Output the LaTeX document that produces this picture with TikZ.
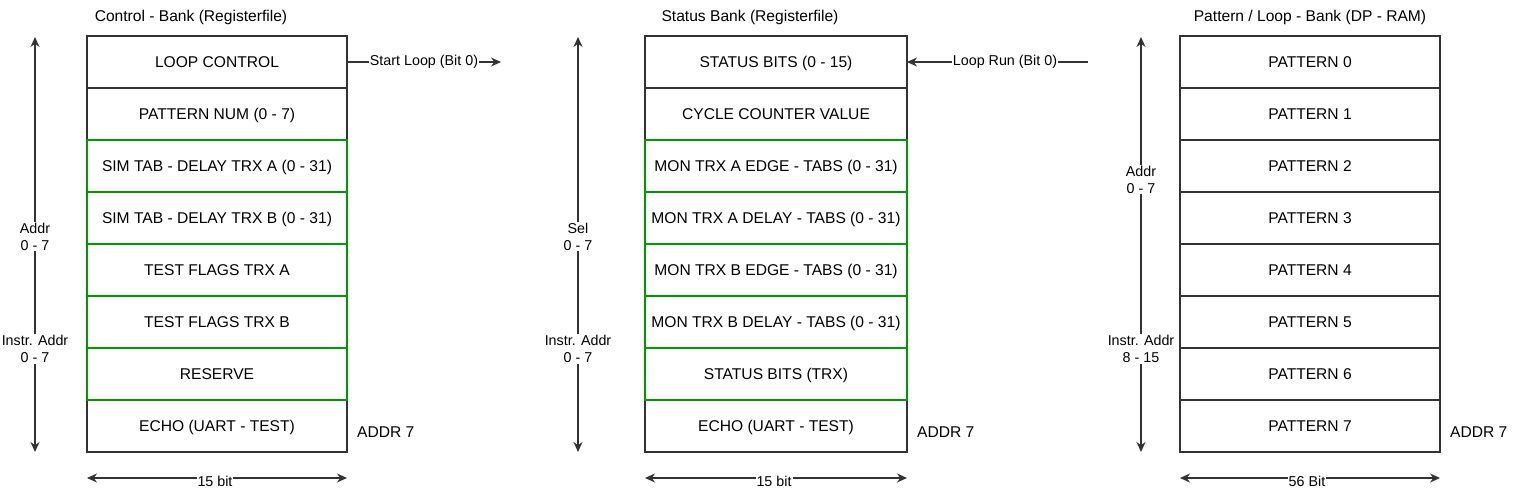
\documentclass[tikz,border=0pt]{standalone}
\usepackage{fontspec}
\setmainfont{Liberation Sans}
\usetikzlibrary{arrows.meta}
\definecolor{lc}{HTML}{333333}
\definecolor{gc}{HTML}{009900}
\begin{document}
\begin{tikzpicture}[x=1pt,y=-1pt,
  cell/.style={draw=lc,line width=1.2pt,minimum height=52pt,inner sep=0pt,outer sep=0pt,font=\fontsize{15.6}{18}\selectfont,text=black,text height=11.2pt,text depth=0pt},
  gcell/.style={cell,draw=gc,line width=2pt},
  w1/.style={minimum width=260pt},
  w2/.style={minimum width=262pt},
  lbl/.style={font=\fontsize{14.3}{16.5}\selectfont,fill=white,inner sep=1pt,align=center},
  ttl/.style={font=\fontsize{15.6}{18}\selectfont,inner sep=0pt},
  big/.style={font=\fontsize{15.6}{18}\selectfont,inner sep=0pt,anchor=west},
  arr/.style={draw=lc,line width=1.1pt,-{Stealth[length=10pt,width=9pt]}},
  darr/.style={draw=lc,line width=1.1pt,{Stealth[length=10pt,width=9pt]}-{Stealth[length=10pt,width=9pt]}}]
\useasboundingbox (0,0) rectangle (1518,502);
% Column 1
\node[ttl] (t1) at (191,17) {Control - Bank (Registerfile)};
\node[cell,w1] (a0) at (217,62) {LOOP CONTROL};
\node[cell,w1] (a1) at (217,114) {PATTERN NUM (0 - 7)};
\node[cell,w1] (a7) at (217,426) {ECHO (UART - TEST)};
\node[gcell,w1] (a2) at (217,166) {SIM TAB - DELAY TRX A (0 - 31)};
\node[gcell,w1] (a3) at (217,218) {SIM TAB - DELAY TRX B (0 - 31)};
\node[gcell,w1] (a4) at (217,270) {TEST FLAGS TRX A};
\node[gcell,w1] (a5) at (217,322) {TEST FLAGS TRX B};
\node[gcell,w1] (a6) at (217,374) {RESERVE};
\node[big] (ad1) at (357,432) {ADDR 7};
\coordinate (v1t) at (35,37);
\coordinate (v1b) at (35,452);
\draw[darr] (v1b) -- (v1t);
\node[lbl] (l1a) at (35,237) {Addr\\0 - 7};
\node[lbl] (l1b) at (35,349) {Instr. Addr\\0 - 7};
\coordinate (h1l) at (87,478);
\coordinate (h1r) at (347,478);
\draw[darr] (h1l) -- (h1r);
\node[lbl] (b1) at (215,481) {15 bit};
\coordinate (sl) at (501,62);
\draw[arr] (a0.east) -- (sl);
\node[lbl] (sll) at (424,62) {Start Loop (Bit 0)};
% Column 2
\node[ttl] (t2) at (750,17) {Status Bank (Registerfile)};
\node[cell,w2] (b0) at (776,62) {STATUS BITS (0 - 15)};
\node[cell,w2] (b1c) at (776,114) {CYCLE COUNTER VALUE};
\node[cell,w2] (b7) at (776,426) {ECHO (UART - TEST)};
\node[gcell,w2] (b2) at (776,166) {MON TRX A EDGE - TABS (0 - 31)};
\node[gcell,w2] (b3) at (776,218) {MON TRX A DELAY - TABS (0 - 31)};
\node[gcell,w2] (b4) at (776,270) {MON TRX B EDGE - TABS (0 - 31)};
\node[gcell,w2] (b5) at (776,322) {MON TRX B DELAY - TABS (0 - 31)};
\node[gcell,w2] (b6) at (776,374) {STATUS BITS (TRX)};
\node[big] (ad2) at (917,432) {ADDR 7};
\coordinate (v2t) at (578,37);
\coordinate (v2b) at (578,452);
\draw[darr] (v2b) -- (v2t);
\node[lbl] (l2a) at (578,237) {Sel\\0 - 7};
\node[lbl] (l2b) at (578,349) {Instr. Addr\\0 - 7};
\coordinate (h2l) at (645,478);
\coordinate (h2r) at (907,478);
\draw[darr] (h2l) -- (h2r);
\node[lbl] (b2l) at (774,481) {15 bit};
\coordinate (lr) at (1088,62);
\draw[arr] (lr) -- (b0.east);
\node[lbl] (lrl) at (1005,62) {Loop Run (Bit 0)};
% Column 3
\node[ttl] (t3) at (1310,17) {Pattern / Loop - Bank (DP - RAM)};
\node[cell,w1] (p0) at (1310,62) {PATTERN 0};
\node[cell,w1] (p1) at (1310,114) {PATTERN 1};
\node[cell,w1] (p2) at (1310,166) {PATTERN 2};
\node[cell,w1] (p3) at (1310,218) {PATTERN 3};
\node[cell,w1] (p4) at (1310,270) {PATTERN 4};
\node[cell,w1] (p5) at (1310,322) {PATTERN 5};
\node[cell,w1] (p6) at (1310,374) {PATTERN 6};
\node[cell,w1] (p7) at (1310,426) {PATTERN 7};
\node[big] (ad3) at (1450,432) {ADDR 7};
\coordinate (v3t) at (1141,37);
\coordinate (v3b) at (1141,452);
\draw[darr] (v3b) -- (v3t);
\node[lbl] (l3a) at (1141,180) {Addr\\0 - 7};
\node[lbl] (l3b) at (1141,349) {Instr. Addr\\8 - 15};
\coordinate (h3l) at (1180,478);
\coordinate (h3r) at (1440,478);
\draw[darr] (h3l) -- (h3r);
\node[lbl] (b3l) at (1307,481) {56 Bit};
\end{tikzpicture}
\end{document}
